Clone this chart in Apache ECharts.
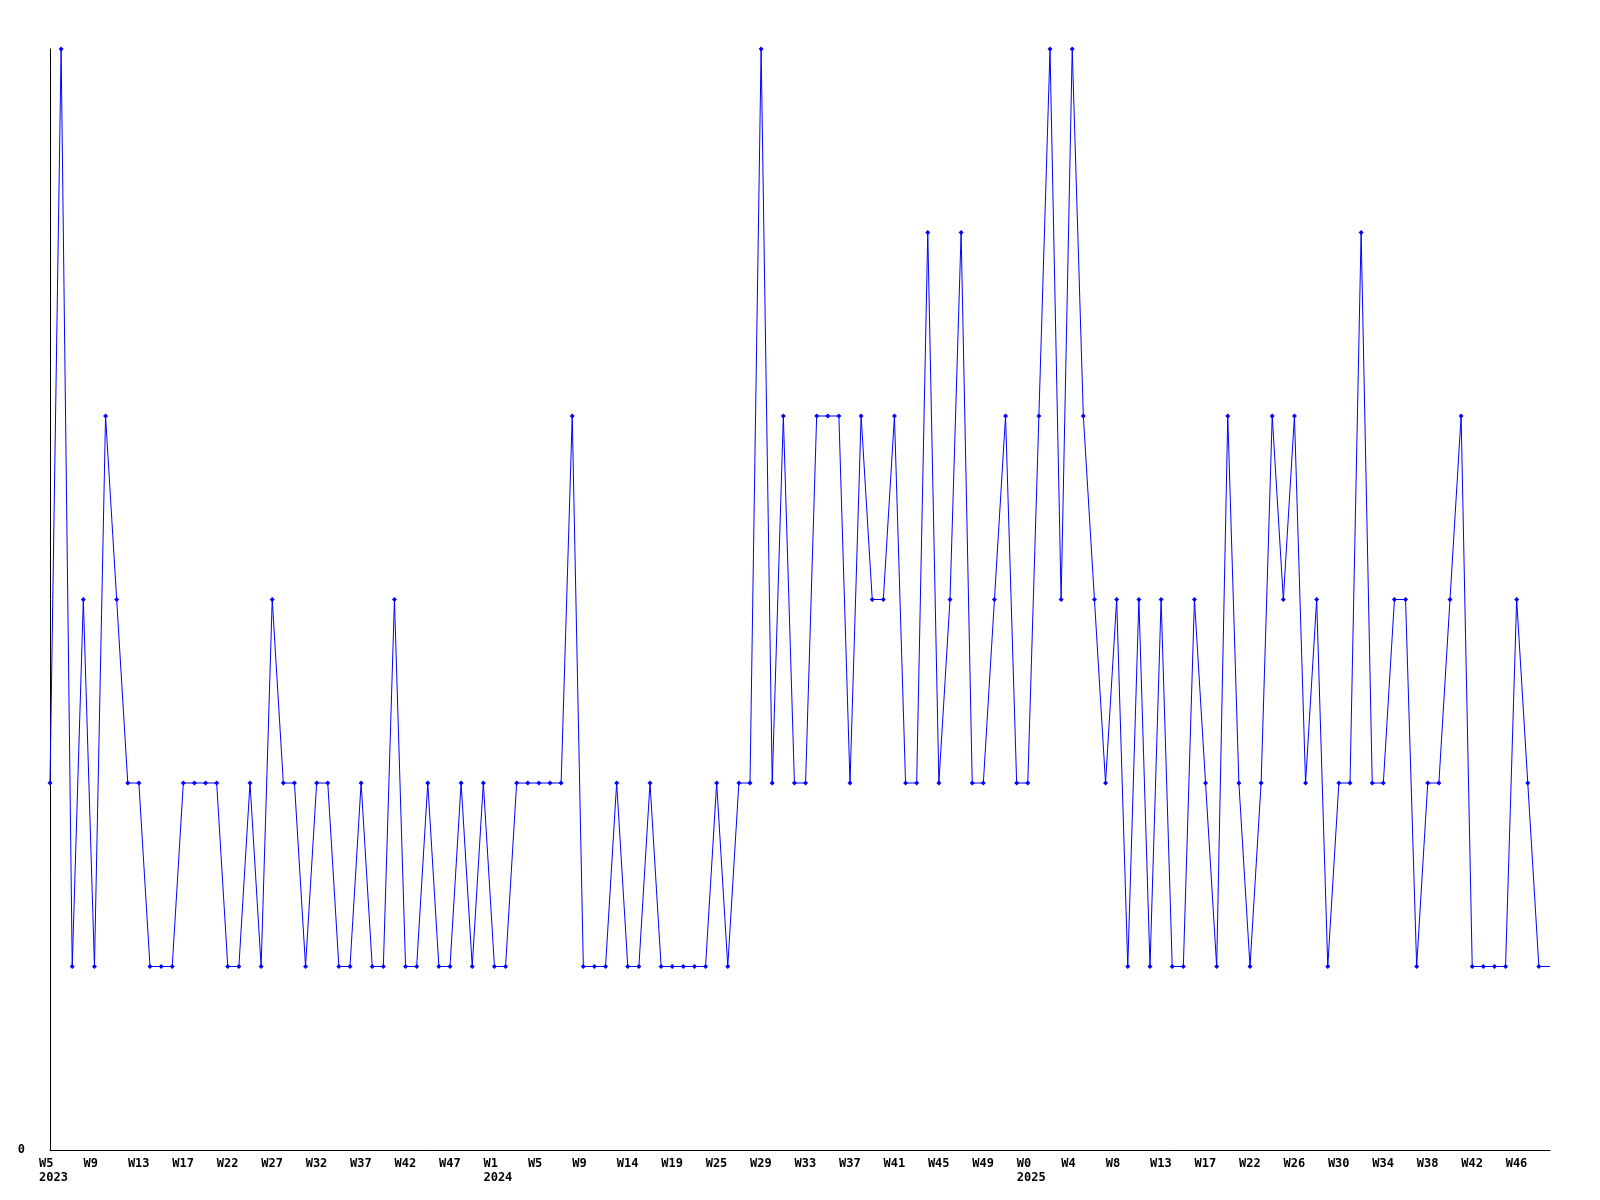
<!DOCTYPE html>
<html>
<head>
<meta charset="utf-8">
<title>weekly</title>
<script src="https://cdn.jsdelivr.net/npm/echarts/dist/echarts.min.js"></script>
<style>
  html, body { margin: 0; padding: 0; background: #fff; }
  #mychart { width: 1600px; height: 1200px; }
</style>
</head>
<body>
<div id="mychart"></div>
<script>
// weeks that have a value, per year (gaps are weeks with no entry)
var weeks2023 = [5, 6, 7, 8, 9, 10, 11, 12, 13, 14, 15, 16, 17, 18, 19, 21, 22, 23, 24, 26,
  27, 28, 29, 31, 32, 33, 34, 36, 37, 38, 39, 41, 42, 43, 44, 46, 47, 48, 50, 52];
var weeks2024 = [1, 2, 3, 4, 5, 6, 7, 8, 9, 10, 11, 13, 14, 15, 16, 18, 19, 20, 22, 24,
  25, 26, 27, 28, 29, 30, 31, 32, 33, 34, 35, 36, 37, 38, 39, 40, 41, 42, 43, 44,
  45, 46, 47, 48, 49, 50, 51, 52];
var weeks2025 = [0, 1, 2, 3, 4, 5, 6, 7, 8, 9, 10, 12, 13, 14, 15, 16, 17, 18, 19, 21,
  22, 23, 24, 25, 26, 27, 28, 29, 30, 31, 32, 33, 34, 35, 36, 37, 38, 39, 40, 41,
  42, 43, 44, 45, 46, 47, 48, 49];

// one value per week above
var counts = [
  2, 6, 1, 3, 1, 4, 3, 2, 2, 1,
  1, 1, 2, 2, 2, 2, 1, 1, 2, 1,
  3, 2, 2, 1, 2, 2, 1, 1, 2, 1,
  1, 3, 1, 1, 2, 1, 1, 2, 1, 2,
  1, 1, 2, 2, 2, 2, 2, 4, 1, 1,
  1, 2, 1, 1, 2, 1, 1, 1, 1, 1,
  2, 1, 2, 2, 6, 2, 4, 2, 2, 4,
  4, 4, 2, 4, 3, 3, 4, 2, 2, 5,
  2, 3, 5, 2, 2, 3, 4, 2, 2, 4,
  6, 3, 6, 4, 3, 2, 3, 1, 3, 1,
  3, 1, 1, 3, 2, 1, 4, 2, 1, 2,
  4, 3, 4, 2, 3, 1, 2, 2, 5, 2,
  2, 3, 3, 1, 2, 2, 3, 4, 1, 1,
  1, 1, 3, 2, 1, 1
];

var yMin = 0;
var yMax = 6;

var categories = []
  .concat(weeks2023.map(function (w) { return "2023-W" + w; }))
  .concat(weeks2024.map(function (w) { return "2024-W" + w; }))
  .concat(weeks2025.map(function (w) { return "2025-W" + w; }));

var labelStep = 4;

// last point sits on the right edge and has no marker
var seriesData = counts.map(function (v, i) {
  if (i === counts.length - 1) {
    return { value: v, symbol: "none" };
  }
  return v;
});

var myEcharts = echarts.init(document.getElementById("mychart"));
var option = {
  animation: false,
  backgroundColor: "#ffffff",
  grid: {
    left: 50,
    right: 50,
    top: 49,
    bottom: 50,
  },
  xAxis: {
    type: "category",
    data: categories,
    boundaryGap: false,
    axisLine: { lineStyle: { color: "#000", width: 1 } },
    axisTick: { show: false },
    axisLabel: {
      interval: labelStep - 1,
      align: "left",
      padding: [0, 0, 0, -11],
      margin: 7,
      color: "#000",
      fontFamily: "DejaVu Sans Mono",
      fontWeight: "bold",
      fontSize: 12,
      lineHeight: 14,
      formatter: function (val, idx) {
        var parts = val.split("-");
        var year = parts[0];
        var week = parts[1];
        // year goes under the first label of each year
        var prev = idx - labelStep >= 0 ? categories[idx - labelStep].split("-")[0] : null;
        if (prev !== year) {
          return week + "\n" + year;
        }
        return week;
      },
    },
    splitLine: { show: false },
  },
  yAxis: {
    type: "value",
    min: yMin,
    max: yMax,
    interval: 6,
    axisLine: { show: true, lineStyle: { color: "#000", width: 1 } },
    axisTick: { show: false },
    splitLine: { show: false },
    axisLabel: {
      margin: 25,
      color: "#000",
      fontFamily: "DejaVu Sans Mono",
      fontWeight: "bold",
      fontSize: 12,
      formatter: function (v) {
        return v === 0 ? "0" : "";
      },
    },
  },
  series: [
    {
      type: "line",
      data: seriesData,
      symbol: "diamond",
      symbolSize: 5,
      showAllSymbol: true,
      lineStyle: { color: "#0000ff", width: 1 },
      itemStyle: { color: "#0000ff" },
    },
  ],
};
myEcharts.setOption(option);
</script>
</body>
</html>
